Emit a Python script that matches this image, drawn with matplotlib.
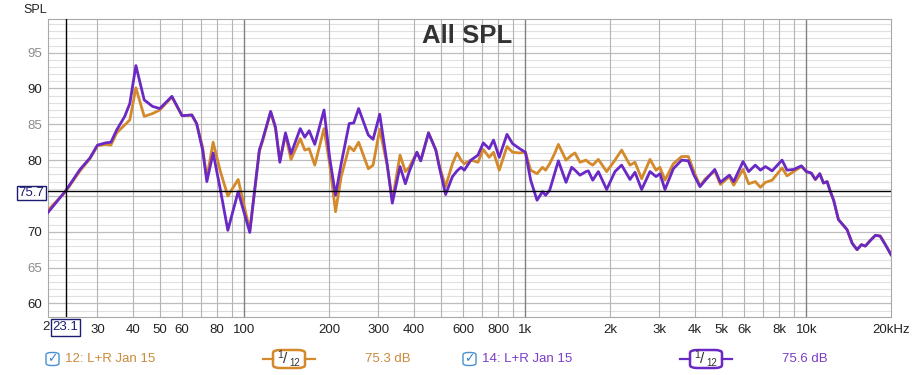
import matplotlib
matplotlib.use("Agg")
import matplotlib.pyplot as plt
from matplotlib.patches import FancyBboxPatch, Rectangle
from matplotlib.lines import Line2D

plt.rcParams['font.family'] = ['Liberation Sans', 'DejaVu Sans']

# frequency (Hz) and SPL (dB)
freq = [20, 23.1, 26, 28.2, 30, 32, 33.5, 35.1, 37.5, 39.1, 41.1, 44, 47.1, 50,
        55.2, 60, 65, 67.6, 71, 73.5, 77.4, 82, 87.3, 95, 104.5, 113, 116, 124,
        129, 133.7, 140, 146.5, 158, 164, 170, 178, 192, 201, 211, 221, 236, 245,
        255, 276, 287, 303, 322, 336, 358, 374, 386, 411, 424, 452, 480, 494,
        520, 550, 571, 590, 606, 640, 678, 708, 743, 770, 807, 860, 900, 954,
        1000, 1044, 1100, 1150, 1180, 1220, 1270, 1310, 1395, 1461, 1501, 1564,
        1643, 1675, 1736, 1818, 1946, 2083, 2200, 2356, 2454, 2592, 2776, 2916,
        3012, 3138, 3361, 3598, 3800, 3980, 4181, 4370, 4720, 4940, 5320, 5510,
        5950, 6230, 6580, 6860, 7150, 7550, 8190, 8530, 9010, 9600, 10000,
        10400, 10760, 11160, 11500, 11850, 12170, 12500, 13000, 13400, 13950,
        14550, 15140, 15700, 16200, 16900, 17600, 18300, 19100, 20000]

spl_14 = [72.7, 75.7, 78.7, 80.3, 82.1, 82.4, 82.5, 84.2, 86.1, 87.9, 93.2, 88.4, 87.5, 87.2,
          88.9, 86.2, 86.3, 85.1, 81.4, 77.0, 81.0, 76.0, 70.2, 75.6, 69.9, 81.4, 82.8, 86.8,
          84.6, 79.7, 83.8, 80.9, 84.4, 83.2, 84.1, 82.2, 87.0, 80.4, 75.1, 79.5, 85.1, 85.2,
          87.2, 83.5, 82.9, 86.4, 79.5, 74.0, 79.1, 76.7, 78.4, 81.1, 79.9, 83.8, 81.4, 79.0,
          75.2, 77.7, 78.5, 79.0, 78.6, 80.0, 80.7, 82.4, 81.6, 82.8, 80.4, 83.6, 82.3, 81.6,
          81.1, 77.2, 74.4, 75.6, 75.1, 75.8, 78.1, 79.9, 76.9, 79.0, 78.6, 77.9,
          78.4, 78.5, 77.2, 78.4, 75.9, 78.4, 79.3, 77.3, 78.3, 75.9, 78.4, 77.7,
          78.1, 75.9, 78.8, 80.0, 79.9, 77.9, 76.3, 77.2, 78.7, 76.9, 77.9, 77.0,
          79.8, 78.4, 79.3, 78.6, 79.1, 78.5, 80.0, 78.6, 78.7, 79.2, 78.4,
          78.2, 77.3, 78.1, 76.8, 77.0, 75.6, 74.4, 71.7, 71.1, 70.3,
          68.4, 67.5, 68.2, 68.0, 68.8, 69.5, 69.4, 68.2, 66.8]

spl_12 = [73.0, 75.6, 78.5, 80.2, 82.0, 82.2, 82.1, 83.8, 84.9, 85.6, 90.1, 86.1, 86.5, 87.0,
          88.8, 86.2, 86.3, 85.1, 81.8, 77.5, 82.5, 78.5, 75.0, 77.3, 70.2, 81.2, 82.6, 86.7,
          84.4, 80.0, 83.5, 80.1, 83.0, 81.4, 81.6, 79.3, 84.4, 79.5, 72.8, 77.7, 81.9, 81.3,
          82.5, 78.8, 79.3, 84.3, 79.3, 74.4, 80.7, 78.4, 79.0, 81.1, 79.9, 83.8, 81.4, 79.2,
          76.3, 79.5, 81.0, 80.0, 79.5, 80.0, 79.7, 81.5, 80.4, 81.1, 78.6, 81.9, 81.1, 81.0,
          81.1, 78.6, 78.1, 79.0, 78.6, 79.5, 80.9, 82.2, 80.0, 80.7, 81.0, 79.7,
          80.0, 79.7, 79.3, 80.1, 78.4, 80.0, 81.4, 79.3, 79.7, 77.4, 80.1, 78.6,
          79.0, 77.2, 79.5, 80.5, 80.5, 78.4, 76.4, 77.4, 78.5, 76.6, 77.7, 76.5,
          78.7, 76.7, 77.0, 76.2, 76.9, 77.2, 78.9, 77.8, 78.4, 79.1, 78.4,
          78.2, 77.3, 78.1, 76.8, 77.0, 75.6, 74.4, 71.7, 71.1, 70.3,
          68.4, 67.5, 68.2, 68.0, 68.8, 69.5, 69.4, 68.2, 66.8]

# the "20" label is mostly hidden behind the cursor box, only "2" shows
xtick_vals = [30, 40, 50, 60, 80, 100, 200, 300, 400, 600, 800, 1000, 2000,
              3000, 4000, 5000, 6000, 8000, 10000, 20000]
xtick_text = ['30', '40', '50', '60', '80', '100', '200', '300', '400', '600',
              '800', '1k', '2k', '3k', '4k', '5k', '6k', '8k', '10k', '20kHz']
ytick_vals = [60, 65, 70, 80, 85, 90, 95]

cursor_f = 23.1
cursor_db = 75.7
avg_12 = 75.3
avg_14 = 75.6

orange = '#d4892a'
purple = '#6a28c4'
orange_txt = '#c98a3c'
purple_txt = '#7b3cc8'
navy = '#1c1c70'

W, H = 915, 375
fig = plt.figure(figsize=(W / 100, H / 100), dpi=100)
fig.patch.set_facecolor('white')


def fx(x):
    return x / W


def fy(y):
    return 1 - y / H


ax = fig.add_axes([fx(48), fy(317), (891 - 48) / W, (317 - 19) / H])
ax.set_xscale('log')
ax.set_xlim(20, 20000)
ax.set_ylim(58.1, 99.7)

# grid
for db in range(59, 100):
    if db % 5 == 0:
        ax.axhline(db, color='#bdbdbd', lw=0.9, zorder=1)
    else:
        ax.axhline(db, color='#e0e0e0', lw=0.8, zorder=1)
for dec in [10, 100, 1000, 10000]:
    for m in range(1, 10):
        f = m * dec
        if f <= 20 or f >= 20000:
            continue
        if m == 1:
            ax.axvline(f, color='#808080', lw=1.0, zorder=1)
        else:
            ax.axvline(f, color='#b4b4b4', lw=0.8, zorder=1)

ax.plot(freq, spl_12, color=orange, lw=2.0, zorder=3, solid_joinstyle='round')
ax.plot(freq, spl_14, color=purple, lw=2.0, zorder=4, solid_joinstyle='round')

# cursor
ax.axvline(cursor_f, color='black', lw=1.0, zorder=5)
ax.axhline(cursor_db, color='black', lw=1.0, zorder=5)

ax.xaxis.set_minor_locator(matplotlib.ticker.NullLocator())
ax.set_xticks(xtick_vals)
ax.set_xticklabels(xtick_text)
ax.set_yticks(ytick_vals)
ax.set_yticklabels([str(v) for v in ytick_vals])
ax.tick_params(axis='both', length=0, labelsize=9.5, colors='#222222')
ax.tick_params(axis='x', pad=5)
ax.tick_params(axis='y', pad=4)
for lab, v in zip(ax.get_yticklabels(), ytick_vals):
    lab.set_color('#222222' if v % 10 == 0 else '#8a8a8a')
for sp in ax.spines.values():
    sp.set_color('#a8a8a8')
    sp.set_linewidth(0.8)

fig.text(fx(49.5), fy(327.5), '2', color='#222222', fontsize=9.5, ha='right', va='center')

# cursor value boxes
fig.patches.append(Rectangle((fx(50.5), fy(336)), 29.5 / W, 17 / H, transform=fig.transFigure,
                             facecolor='white', edgecolor=navy, lw=1.0, zorder=10))
fig.text(fx(65.3), fy(327.5), '%.1f' % cursor_f, color=navy, fontsize=9.5,
         ha='center', va='center', zorder=11)
fig.patches.append(Rectangle((fx(16.5), fy(199.5)), 29.5 / W, 13.5 / H, transform=fig.transFigure,
                             facecolor='white', edgecolor=navy, lw=1.0, zorder=10))
fig.text(fx(31.3), fy(192.5), '%.1f' % cursor_db, color=navy, fontsize=9.5,
         ha='center', va='center', zorder=11)

fig.text(fx(35), fy(10), 'SPL', fontsize=9, color='#222222', ha='center', va='center')
fig.text(fx(467), fy(36), 'All SPL', fontsize=18.5, fontweight='bold', color='#333333',
         ha='center', va='center')


# legend row
def legend_entry(x0, label, avg, col, txtcol, box_x):
    yc = 359
    fig.patches.append(FancyBboxPatch((fx(x0), fy(yc + 6.5)), 13 / W, 13 / H,
                                      boxstyle='round,pad=0,rounding_size=0.006',
                                      transform=fig.transFigure, facecolor='white',
                                      edgecolor='#4a90d0', lw=1.0))
    fig.text(fx(x0 + 6.5), fy(yc), '\u2713', color='#3a80c8', fontsize=9,
             ha='center', va='center', family=['DejaVu Sans'])
    fig.text(fx(x0 + 19), fy(yc), label, color=txtcol, fontsize=9.5, ha='left', va='center')
    fig.lines.append(Line2D([fx(box_x - 10), fx(box_x)], [fy(yc), fy(yc)],
                            transform=fig.transFigure, color=col, lw=1.6))
    fig.lines.append(Line2D([fx(box_x + 32), fx(box_x + 42)], [fy(yc), fy(yc)],
                            transform=fig.transFigure, color=col, lw=1.6))
    fig.patches.append(FancyBboxPatch((fx(box_x), fy(yc + 9)), 32 / W, 18 / H,
                                      boxstyle='round,pad=0,rounding_size=0.008',
                                      transform=fig.transFigure, facecolor='white',
                                      edgecolor=col, lw=1.8))
    fig.text(fx(box_x + 7), fy(yc - 3.5), '1', color='#333333', fontsize=7.5, ha='center', va='center')
    fig.text(fx(box_x + 12.5), fy(yc), '/', color='#333333', fontsize=11, ha='center', va='center')
    fig.text(fx(box_x + 22), fy(yc + 4), '12', color='#333333', fontsize=7, ha='center', va='center')
    fig.text(fx(box_x + 92), fy(yc), '%.1f dB' % avg, color=txtcol, fontsize=9.5,
             ha='left', va='center')


legend_entry(46, '12: L+R Jan 15', avg_12, orange, orange_txt, 273)
legend_entry(463, '14: L+R Jan 15', avg_14, purple, purple_txt, 690)

fig.savefig('out.png', dpi=100)
